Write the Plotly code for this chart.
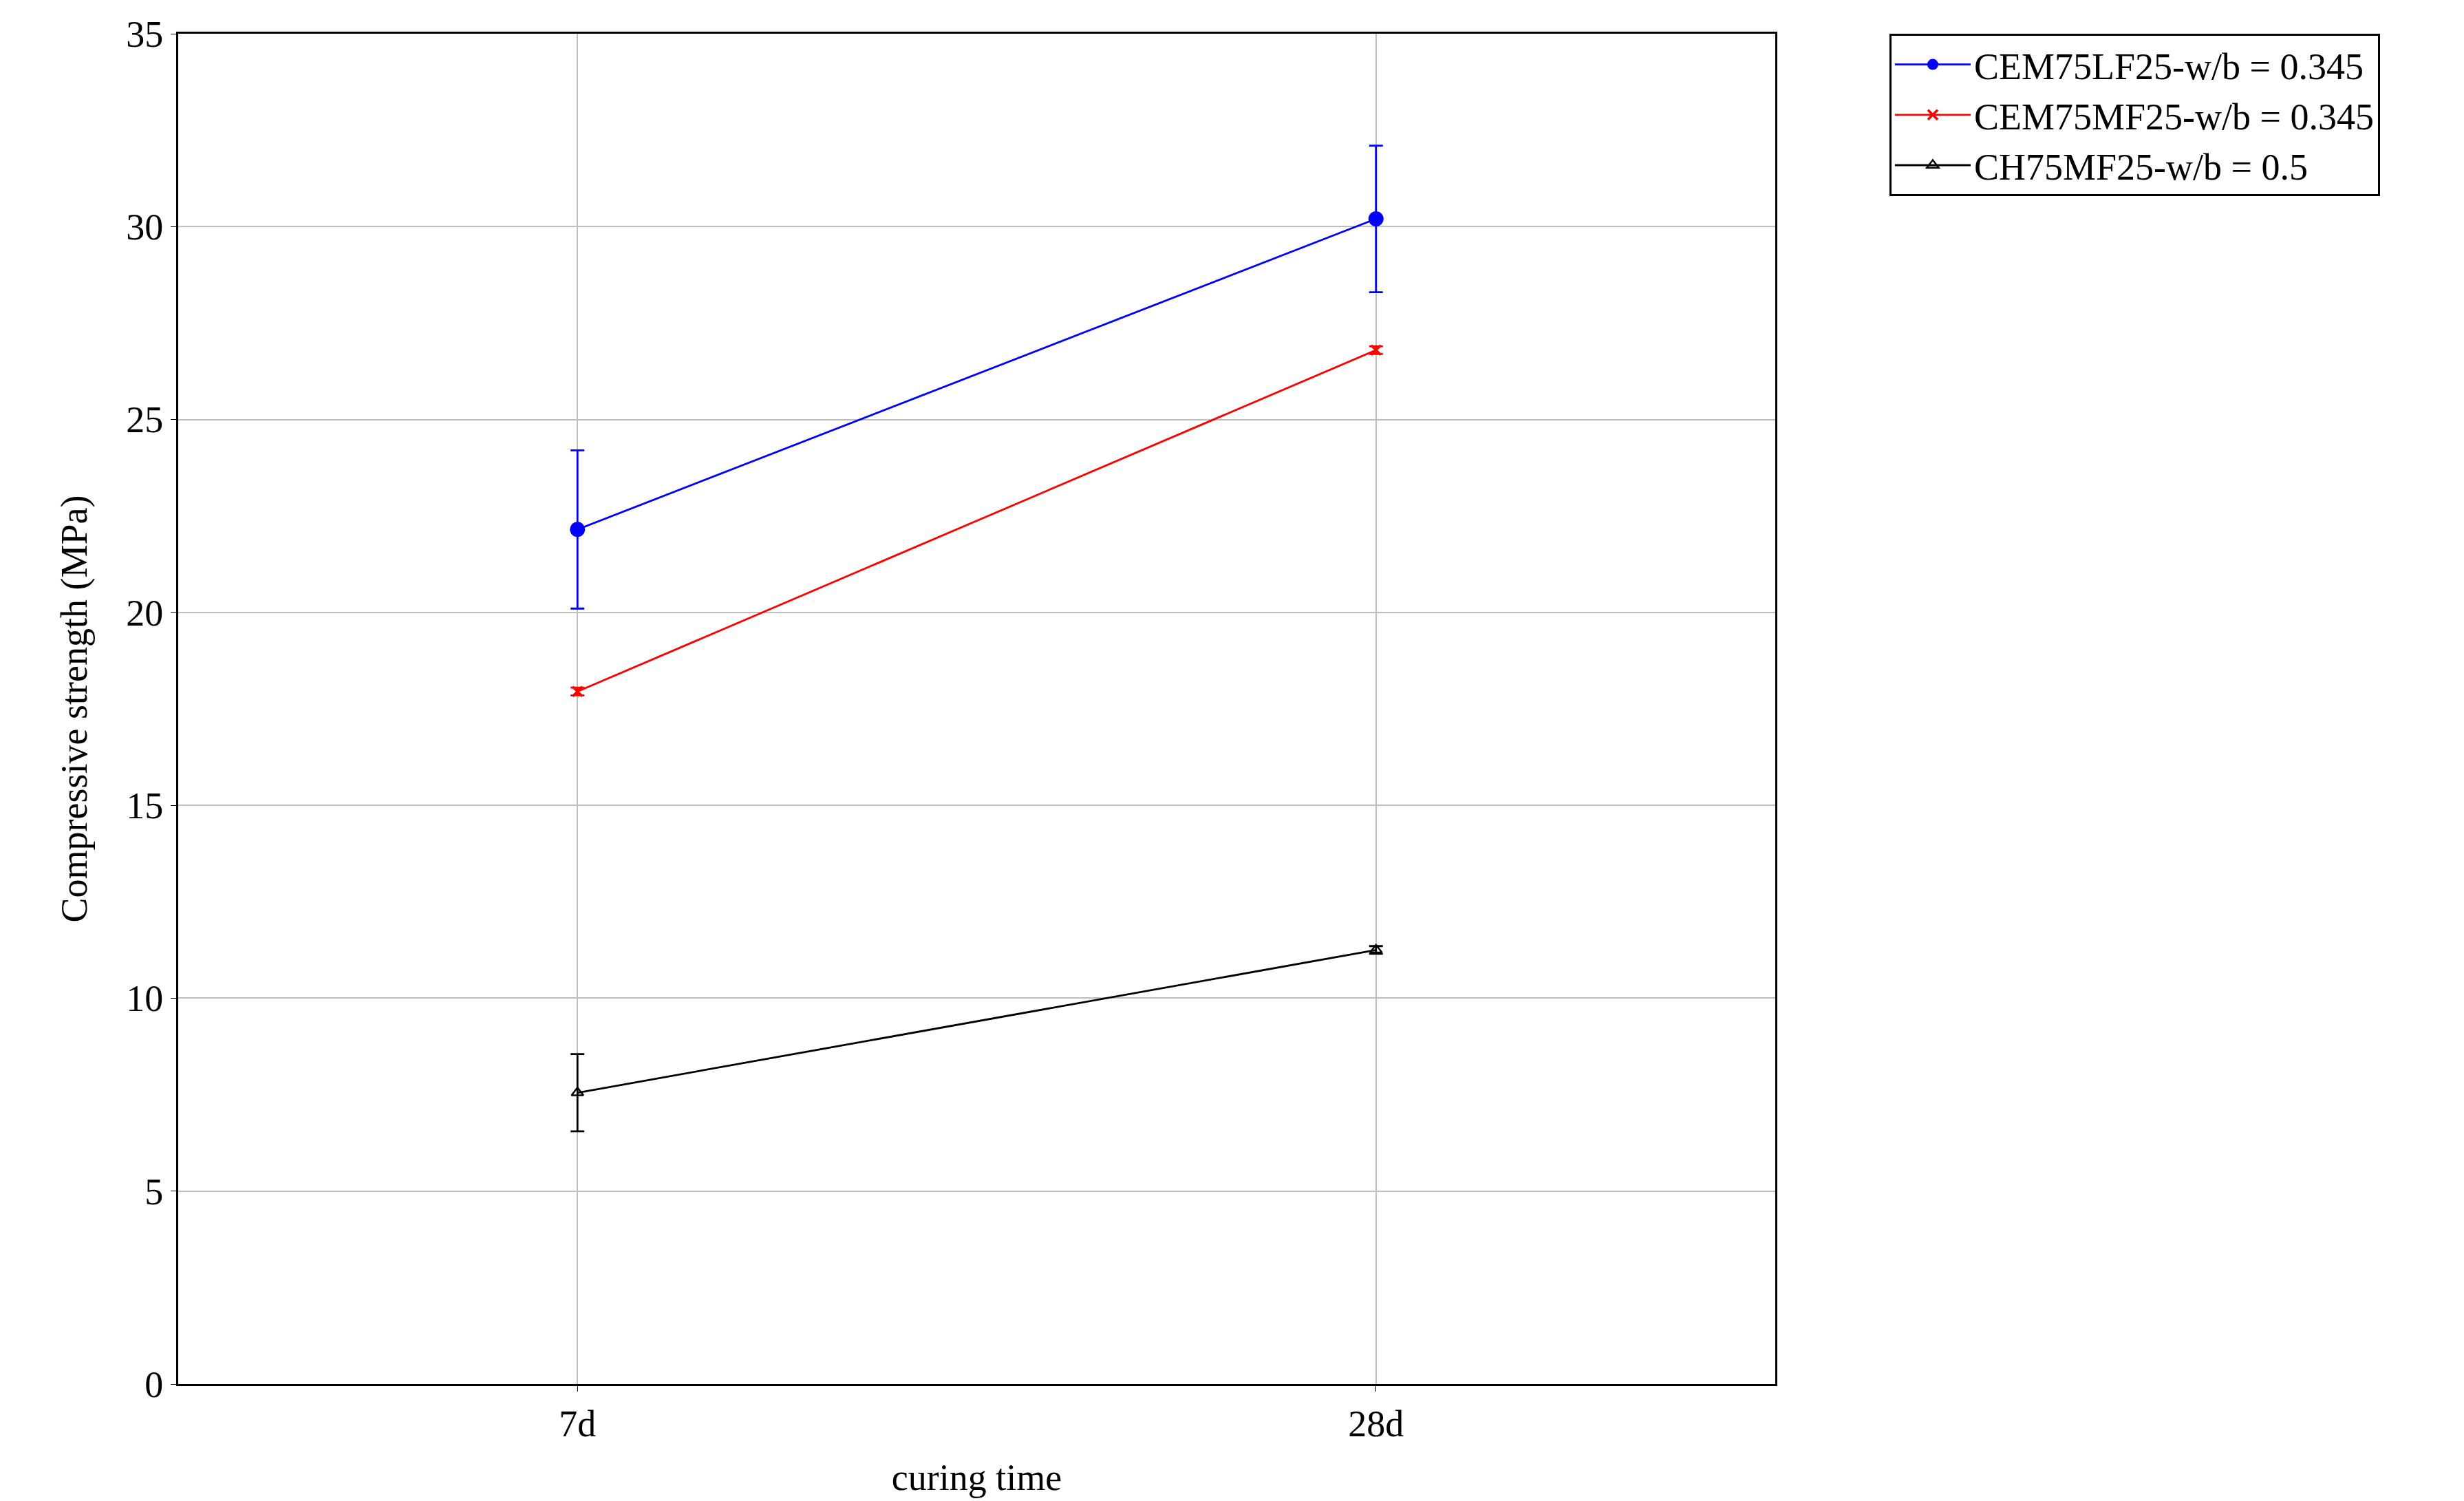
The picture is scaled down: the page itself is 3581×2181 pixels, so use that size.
import plotly.graph_objects as go

categories = ["7d", "28d"]
xpos = [0, 1]
series_names = ["CEM75LF25-w/b = 0.345", "CEM75MF25-w/b = 0.345", "CH75MF25-w/b = 0.5"]
blue_vals = [22.15, 30.2]
blue_err = [2.05, 1.9]
red_vals = [17.95, 26.8]
red_err = [0.1, 0.1]
black_vals = [7.55, 11.25]
black_err = [1.0, 0.1]

FONT = "Liberation Serif"
FS = 54
fig = go.Figure()
specs = [
    (series_names[0], blue_vals, blue_err, "#0000ff", dict(symbol="circle", size=22)),
    (series_names[1], red_vals, red_err, "#ff0000", dict(symbol="x-thin-open", size=14, line=dict(width=3.5, color="#ff0000"))),
    (series_names[2], black_vals, black_err, "#000000", dict(symbol="triangle-up-open", size=15, line=dict(width=2.5, color="#000000"))),
]
for name, vals, err, col, mk in specs:
    fig.add_trace(go.Scatter(
        x=xpos, y=vals, name=name, mode="lines+markers",
        line=dict(color=col, width=2.8), marker=dict(color=col, **mk),
        error_y=dict(type="data", array=err, color=col, thickness=2.8, width=10),
    ))

axis_common = dict(showline=True, linecolor="black", linewidth=3, mirror=True,
                   showgrid=True, gridcolor="#bfbfbf", gridwidth=2, zeroline=False,
                   ticks="outside", ticklen=8, tickcolor="black",
                   tickfont=dict(family=FONT, size=FS, color="black"))
fig.update_xaxes(range=[-0.5, 1.5], tickvals=xpos, ticktext=categories,
                 title=dict(text="curing time", font=dict(family=FONT, size=FS, color="black"), standoff=30),
                 **axis_common)
fig.update_yaxes(range=[0, 35], dtick=5,
                 title=dict(text="Compressive strength (MPa)", font=dict(family=FONT, size=FS, color="black"), standoff=40),
                 **axis_common)
fig.update_layout(
    width=3581, height=2181, plot_bgcolor="white", paper_bgcolor="white",
    margin=dict(l=251, r=1009, t=39, b=178),
    font=dict(family=FONT, size=FS, color="black"),
    legend=dict(x=1.0715, y=1, xanchor="left", yanchor="top", bordercolor="black",
                borderwidth=3, font=dict(family=FONT, size=FS), itemwidth=110,
                tracegroupgap=0),
)
fig.write_html("out.html")
